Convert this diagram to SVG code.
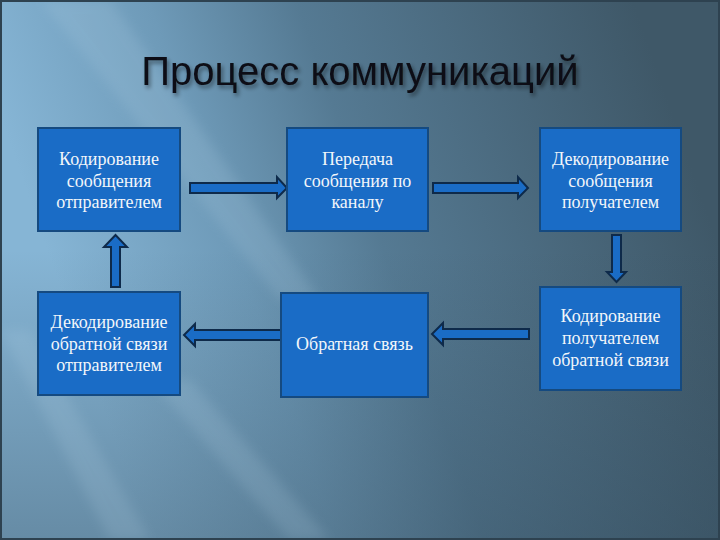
<svg xmlns="http://www.w3.org/2000/svg" width="720" height="540" viewBox="0 0 720 540">
<defs>
<linearGradient id="bg" gradientUnits="userSpaceOnUse" x1="40" y1="230" x2="640" y2="20">
<stop offset="0" stop-color="#86b5d5"/>
<stop offset="0.28" stop-color="#6e9aB8"/>
<stop offset="0.5" stop-color="#557a93"/>
<stop offset="1" stop-color="#3f5868"/>
</linearGradient>
<linearGradient id="dark" x1="0" y1="0" x2="0" y2="1">
<stop offset="0" stop-color="#2a3e4c" stop-opacity="0"/>
<stop offset="1" stop-color="#2a3e4c" stop-opacity="0.35"/>
</linearGradient>
<filter id="sh" x="-10%" y="-10%" width="120%" height="140%">
<feDropShadow dx="2" dy="3" stdDeviation="2" flood-color="#000" flood-opacity="0.45"/>
</filter>
<filter id="blur"><feGaussianBlur stdDeviation="6"/></filter>
<style>
.box{fill:#1a6cc6;stroke:#154a80;stroke-width:2}
.lbl{font-family:"Liberation Serif","Times New Roman",serif;font-size:18px;fill:#f2f6fa;text-anchor:middle}
.arr{fill:#1a6cc6;stroke:#0e2a4a;stroke-width:2;stroke-linejoin:miter}
.title{font-family:"Liberation Sans",Arial,sans-serif;font-size:40px;fill:#0b0f15;text-anchor:middle}
.streak{fill:#bcd9ec;opacity:0.16;filter:url(#blur)}
</style>
</defs>
<rect width="720" height="540" fill="url(#bg)"/>
<rect y="250" width="720" height="290" fill="url(#dark)"/>
<polygon class="streak" points="0,330 30,330 150,540 110,540"/>
<polygon class="streak" points="150,380 190,380 330,540 290,540"/>
<polygon class="streak" points="40,0 110,0 320,300 280,300"/>
<rect x="1" y="1" width="718" height="538" fill="none" stroke="#2e4250" stroke-width="2"/>
<text class="title" x="360" y="85" filter="url(#sh)">Процесс коммуникаций</text>
<g id="connectors">
<polygon class="arr" points="190,183 277,183 277,177 287,188 277,198 277,193 190,193"/>
<polygon class="arr" points="433,183 518,183 518,177 528,188 518,198 518,193 433,193"/>
<polygon class="arr" points="612,235 621,235 621,272 626,272 616.5,282 607,272 612,272"/>
<polygon class="arr" points="529,329 443,329 443,323 432,334 443,345 443,339 529,339"/>
<polygon class="arr" points="281,330 195,330 195,324 184,335 195,346 195,340 281,340"/>
<polygon class="arr" points="111,287 120,287 120,247 127,247 115.5,235 104,247 111,247"/>
</g>
<g id="n1"><rect class="box" x="38" y="128" width="142" height="103"/>
<text class="lbl" x="109" y="165">Кодирование</text><text class="lbl" x="109" y="187">сообщения</text><text class="lbl" x="109" y="208">отправителем</text></g>
<g id="n2"><rect class="box" x="287" y="128" width="141" height="103"/>
<text class="lbl" x="357.5" y="165">Передача</text><text class="lbl" x="357.5" y="187">сообщения по</text><text class="lbl" x="357.5" y="208">каналу</text></g>
<g id="n3"><rect class="box" x="540" y="128" width="141" height="103"/>
<text class="lbl" x="610.5" y="165">Декодирование</text><text class="lbl" x="610.5" y="187">сообщения</text><text class="lbl" x="610.5" y="208">получателем</text></g>
<g id="n4"><rect class="box" x="38" y="292" width="142" height="103"/>
<text class="lbl" x="109" y="328">Декодирование</text><text class="lbl" x="109" y="350">обратной связи</text><text class="lbl" x="109" y="371">отправителем</text></g>
<g id="n5"><rect class="box" x="281" y="293" width="147" height="104"/>
<text class="lbl" x="354.5" y="350">Обратная связь</text></g>
<g id="n6"><rect class="box" x="540" y="287" width="141" height="103"/>
<text class="lbl" x="610.5" y="322">Кодирование</text><text class="lbl" x="610.5" y="344">получателем</text><text class="lbl" x="610.5" y="366">обратной связи</text></g>
</svg>
